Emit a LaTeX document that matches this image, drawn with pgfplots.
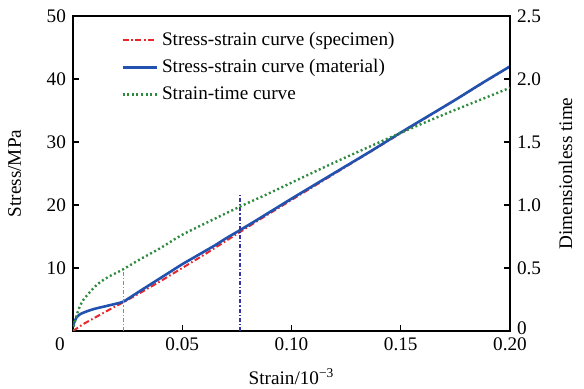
\documentclass[border=0pt]{standalone}
\usepackage{pgfplots}
\pgfplotsset{compat=1.18}
\usepackage{fontspec}
\setmainfont{Liberation Serif}
\newcommand{\fs}{\fontsize{9.6}{11.5}\selectfont}
\definecolor{cred}{HTML}{E8262B}
\definecolor{cblue}{HTML}{2152B0}
\definecolor{cgreen}{HTML}{2E8A3E}
\definecolor{clav}{HTML}{8080E8}
\definecolor{cdark}{HTML}{3535A5}
\begin{document}
\begin{tikzpicture}
\path[use as bounding box] (-36.5pt,-29pt) rectangle (255.5pt,165.5pt);
\pgfplotsset{
  every axis/.append style={
    scale only axis, width=218.5pt, height=157.5pt,
    xmin=0, xmax=0.2,
    axis line style={line width=0.7pt},
    major tick style={line width=0.7pt, black},
    major tick length=3pt,
    tick align=inside,
    tick label style={font=\fs},
    label style={font=\fs},
  },
}
\begin{axis}[
  ymin=0, ymax=50,
  xtick={0.05,0.10,0.15,0.20},
  xticklabels={0.05,0.10,0.15,0.20},
  extra x ticks={0},
  extra x tick labels={0},
  extra x tick style={major tick length=0pt, xticklabel style={xshift=-6.5pt}},
  xtick pos=bottom,
  ytick={10,20,30,40,50},
  yticklabels={10,20,30,40,50},
  ytick pos=left,
  xlabel={Strain/10\textsuperscript{−3}},
  ylabel={Stress/MPa},
  xlabel style={yshift=-2pt},
  ylabel style={yshift=6pt},
  legend style={at={(0.105,0.97)}, anchor=north west, draw=none, fill=none,
    font=\fs, row sep=1.5pt, inner sep=1pt},
  legend cell align=left,
]
\addplot[cred, line width=1pt, dash pattern=on 3pt off 1.3pt on 0.8pt off 1.3pt] coordinates {
(0,0) (0.0047,1.1) (0.0108,2.27) (0.0169,3.44) (0.023,4.55) (0.03,5.9) (0.035,6.9)
(0.04,7.9) (0.045,8.95) (0.05,10.0) (0.06,12.1) (0.07,14.3) (0.0764,15.7) (0.085,17.6)
(0.1,20.8) (0.125,26.1) (0.15,31.4) (0.175,36.7) (0.2,42.0)};
\addlegendentry{Stress-strain curve (specimen)}
\addplot[cblue, line width=1.3pt, smooth] coordinates {
(0,0.6) (0.0005,1.3) (0.0017,2.2) (0.003,2.6) (0.0047,2.9) (0.0078,3.3) (0.0108,3.6)
(0.0139,3.85) (0.0169,4.1) (0.02,4.35) (0.023,4.65) (0.026,5.3) (0.03,6.2) (0.035,7.3)
(0.04,8.4) (0.045,9.5) (0.05,10.6) (0.055,11.6) (0.06,12.6) (0.065,13.6) (0.07,14.7)
(0.0764,16.0) (0.085,17.8) (0.1,21.0) (0.1125,23.6) (0.125,26.2) (0.1375,28.8)
(0.15,31.5) (0.1625,34.1) (0.175,36.7) (0.1875,39.4) (0.2,42.0)};
\addlegendentry{Stress-strain curve (material)}
\addlegendimage{cgreen, line width=1.2pt, dash pattern=on 1pt off 1.3pt}
\addlegendentry{Strain-time curve}
\addplot[clav, line width=0.7pt, dash pattern=on 2pt off 1pt on 0.6pt off 1pt, forget plot] coordinates {(0.023,0) (0.023,9.8)};
\addplot[cdark, line width=0.6pt, dash pattern=on 2pt off 1pt on 0.6pt off 1pt, forget plot] coordinates {(0.0764,0) (0.0764,21.9)};
\end{axis}
\begin{axis}[
  ymin=0, ymax=2.5,
  axis x line=none,
  axis y line*=right,
  ytick={0,0.5,1.0,1.5,2.0,2.5},
  yticklabels={\raisebox{3pt}{0},0.5,1.0,1.5,2.0,2.5},
  ylabel={Dimensionless time},
  ylabel style={yshift=-2pt},
]
\addplot[cgreen, line width=1.2pt, dash pattern=on 1pt off 1.3pt, smooth] coordinates {
(0,0) (0.0005,0.05) (0.0017,0.127) (0.003,0.19) (0.0047,0.246) (0.0078,0.31)
(0.0108,0.365) (0.0139,0.405) (0.0169,0.436) (0.02,0.463) (0.023,0.49) (0.0307,0.569)
(0.0398,0.656) (0.049,0.754) (0.058,0.833) (0.0764,0.987) (0.09,1.095) (0.104,1.21)
(0.12,1.34) (0.1405,1.50) (0.155,1.61) (0.17,1.72) (0.185,1.825) (0.2,1.93)};
\end{axis}
\end{tikzpicture}
\end{document}
